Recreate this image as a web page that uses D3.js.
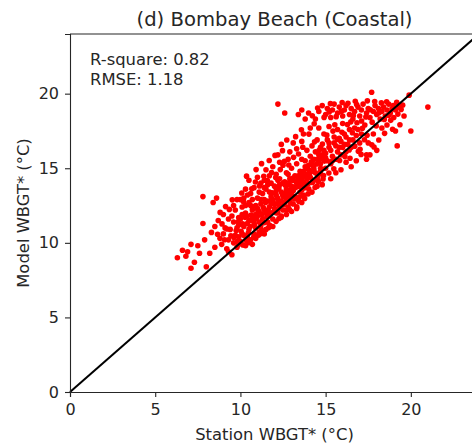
<!DOCTYPE html>
<html lang="en">

<head>
	<meta charset="UTF-8">
	<title>scatter</title>
	<script type="text/javascript" src="https://cdn.jsdelivr.net/npm/d3@7/dist/d3.min.js" charset="UTF-8"></script>
	<style>
		body { margin: 0; background: #fff; }
		text { font-family: "DejaVu Sans", sans-serif; fill: #262626; }
	</style>
</head>

<body>
	<script type="text/javascript">
	// [station WBGT*, model WBGT*]
	let lowTail = [
		[6.3, 9.0], [6.6, 9.5], [6.8, 9.1], [6.9, 9.4], [7.1, 9.9], [7.1, 8.3], [7.3, 8.7], [7.5, 9.8],
		[7.6, 9.3], [7.8, 11.3], [7.9, 10.2], [8.0, 8.4], [8.2, 9.3], [8.3, 10.7], [8.5, 11.1], [8.5, 9.7],
		[8.4, 12.7], [7.8, 13.1], [8.6, 13.0], [9.6, 12.5], [9.5, 9.2], [8.8, 10.3], [8.9, 9.9], [9.0, 10.6],
		[9.1, 11.0], [9.2, 9.6], [9.3, 10.2], [9.4, 10.9], [9.3, 11.6], [9.0, 11.9], [8.7, 11.5], [9.6, 10.0],
		[9.7, 10.5], [9.8, 9.7], [9.9, 11.2], [9.5, 11.8], [9.3, 9.4], [9.9, 9.9],
		[9.44, 10.47], [9.21, 10.93], [9.07, 10.21], [8.92, 11.27], [8.66, 10.58], [9.35, 12.24], [8.81, 12.04],
		[9.52, 12.88], [9.13, 12.43], [9.84, 10.12], [10.15, 9.86], [10.49, 10.01]
	]

	let core = [
		[10.0, 10.1], [10.1, 10.6], [10.2, 11.1], [10.0, 11.6], [10.3, 12.0], [10.1, 12.4], [10.4, 10.4], [10.5, 10.9],
		[10.6, 11.5], [10.4, 11.8], [10.7, 12.2], [10.5, 12.7], [10.8, 10.6], [10.9, 11.0], [10.8, 11.4], [11.0, 11.8],
		[10.9, 12.5], [11.0, 13.0], [10.2, 13.0], [10.6, 13.3], [10.3, 13.6], [9.8, 12.9], [9.7, 12.2], [10.0, 12.9],
		[10.7, 9.9], [10.3, 9.8], [9.9, 10.4], [10.6, 10.2], [11.1, 10.7], [11.2, 11.2], [11.1, 12.1], [11.3, 11.6],
		[11.2, 12.6], [11.4, 12.9], [11.3, 13.3], [11.5, 10.9], [11.6, 11.4], [11.5, 12.0], [11.7, 12.4], [11.6, 12.8],
		[11.8, 13.1], [11.5, 13.6], [11.9, 11.6], [11.8, 12.0], [12.0, 12.3], [11.9, 12.7], [12.1, 13.2], [12.0, 13.8],
		[11.2, 14.0], [11.0, 14.4], [11.5, 14.9], [10.5, 14.2],
		[12.2, 12.0], [12.3, 12.5], [12.2, 12.9], [12.4, 13.4], [12.3, 13.9], [12.5, 12.2], [12.6, 12.7], [12.5, 13.1],
		[12.7, 13.6], [12.6, 14.1], [12.8, 12.4], [12.9, 12.9], [12.8, 13.3], [13.0, 13.8], [12.9, 14.3], [12.7, 14.7],
		[13.1, 12.6], [13.2, 13.1], [13.1, 13.5], [13.3, 14.0], [13.2, 14.5], [13.0, 15.0], [13.4, 12.9], [13.5, 13.4],
		[13.4, 13.8], [13.6, 14.3], [13.5, 14.8], [13.3, 15.3], [13.7, 13.2], [13.8, 13.7], [13.7, 14.1], [13.9, 14.6],
		[13.8, 15.1], [13.6, 15.6], [14.0, 14.0], [14.1, 14.4], [14.0, 14.9], [14.2, 15.3], [14.1, 15.8], [13.9, 16.2],
		[14.3, 14.2], [14.4, 14.7], [14.3, 15.1], [14.5, 15.6], [14.4, 16.1], [14.2, 16.5], [14.6, 14.6], [14.7, 15.0],
		[14.6, 15.4], [14.8, 15.9], [14.7, 16.4], [14.5, 16.9],
		[10.4, 11.3], [10.7, 11.7], [10.2, 10.5], [10.9, 11.9], [11.1, 11.4], [11.4, 12.2], [11.3, 10.8], [11.6, 11.9],
		[11.9, 12.9], [12.1, 12.0], [12.2, 12.6], [12.4, 12.8], [12.6, 13.3], [12.8, 13.9], [12.3, 14.3], [11.7, 13.4],
		[11.4, 13.7], [10.8, 13.7], [10.1, 11.9], [9.8, 11.0], [9.6, 11.4], [10.5, 11.5], [11.0, 12.3], [11.2, 12.9],
		[11.8, 12.6], [12.1, 13.5], [12.7, 12.9], [13.0, 13.2], [13.2, 13.7], [13.5, 14.1], [13.1, 14.2], [12.8, 14.6],
		[13.4, 14.5], [13.7, 14.8], [14.0, 15.2], [13.8, 15.5], [14.3, 15.6], [14.6, 15.9], [14.9, 16.2], [15.2, 16.7],
		[15.5, 17.1], [15.8, 16.4], [16.1, 16.6], [16.4, 16.9], [15.4, 15.5], [15.0, 15.7], [14.7, 15.3], [14.2, 14.8],
		[13.9, 14.3], [13.6, 13.9], [12.9, 13.5], [12.5, 14.0], [12.2, 14.2], [11.6, 13.9], [11.1, 13.4], [10.7, 12.9],
		[10.3, 12.5], [9.9, 11.7], [10.6, 12.5],
		[9.62, 10.35], [9.75, 10.83], [9.88, 11.42], [10.04, 10.77], [10.13, 11.28], [10.27, 11.71], [10.33, 10.18],
		[10.46, 10.66], [10.58, 11.09], [10.63, 11.87], [10.71, 12.41], [10.82, 11.23], [10.94, 11.65], [11.03, 12.14],
		[11.07, 10.52], [11.18, 11.02], [11.26, 11.89], [11.34, 12.37], [11.41, 11.35], [11.48, 12.71], [11.55, 11.73],
		[11.63, 12.22], [11.72, 11.18], [11.79, 12.83], [11.86, 13.36], [11.94, 12.05], [12.03, 12.61], [12.09, 11.44],
		[12.17, 13.02], [12.26, 13.67], [12.31, 12.33], [12.39, 11.71], [12.47, 13.24], [12.55, 12.55], [12.62, 13.88],
		[12.71, 12.18], [12.78, 13.12], [12.86, 14.04], [12.93, 12.67], [13.02, 13.46], [13.09, 14.35], [13.17, 12.94],
		[13.25, 13.73], [13.31, 12.41], [13.38, 14.22], [13.46, 13.07], [13.53, 14.64], [13.61, 13.56], [13.69, 14.47],
		[13.77, 12.98], [13.84, 13.91], [13.92, 15.02], [14.01, 13.63], [14.08, 14.69], [14.16, 15.44], [14.23, 14.05],
		[14.31, 14.93], [14.38, 13.71], [14.46, 15.28], [14.53, 14.42], [14.62, 16.21], [14.69, 14.77], [14.77, 15.67],
		[14.85, 14.28], [14.93, 15.48], [10.18, 12.76], [10.41, 13.21], [10.67, 13.62], [10.88, 14.08], [11.12, 13.81],
		[11.37, 14.46], [11.58, 14.17], [11.83, 14.72], [12.07, 14.38], [12.34, 14.91], [12.58, 15.47], [12.84, 15.22],
		[13.12, 15.73], [13.41, 15.96], [13.66, 16.41], [10.08, 13.34], [10.36, 14.47], [10.92, 14.91], [11.24, 15.31],
		[11.69, 15.52], [12.03, 15.86], [12.47, 16.18]
	]

	let upperMid = [
		[15.0, 15.0], [15.1, 15.5], [15.0, 16.0], [15.2, 16.4], [15.1, 16.9], [14.9, 17.3], [15.3, 15.3], [15.4, 15.8],
		[15.3, 16.2], [15.5, 16.7], [15.6, 15.6], [15.7, 16.1], [15.6, 16.5], [15.8, 17.0], [15.9, 15.9], [16.0, 16.4],
		[15.9, 16.8], [16.1, 17.3], [16.2, 16.1], [16.3, 16.6], [16.2, 17.1], [16.4, 17.6], [16.5, 16.4], [16.6, 16.9],
		[16.8, 17.2], [16.7, 17.7], [17.0, 16.7], [17.1, 17.3], [15.2, 17.8], [15.7, 17.6], [16.0, 18.0], [14.6, 17.7],
		[14.1, 17.7], [13.7, 17.3], [13.1, 16.7], [12.4, 16.6], [12.2, 15.9], [12.8, 15.6], [12.5, 15.2], [13.3, 16.3],
		[13.6, 16.8], [12.9, 16.1], [12.3, 15.4], [11.9, 15.1], [11.7, 14.5], [11.4, 14.2], [12.1, 14.6], [11.8, 14.0],
		[12.72, 16.89], [13.24, 17.12], [13.58, 17.58], [14.02, 17.29], [14.35, 16.77], [14.81, 16.63], [15.07, 17.22],
		[15.43, 17.49], [15.71, 16.93], [15.96, 17.41], [16.28, 17.93], [16.57, 17.38], [16.84, 18.05], [17.16, 17.68],
		[17.43, 17.21], [17.71, 16.58], [17.97, 17.83], [16.38, 16.22], [16.71, 16.48], [17.02, 16.27], [17.28, 16.91]
	]

	let belowLine = [
		[11.9, 11.1], [12.4, 11.8], [13.0, 12.1], [13.6, 12.7], [14.2, 13.4], [14.8, 13.9], [15.3, 14.3], [15.9, 14.9],
		[16.5, 15.1], [16.8, 15.5], [17.4, 15.9], [12.7, 11.9], [13.3, 12.3], [14.5, 13.8], [15.6, 14.7], [16.2, 15.4],
		[10.9, 10.3], [11.4, 10.6], [16.13, 15.78], [15.82, 15.52], [15.48, 14.96], [15.19, 14.68], [14.88, 14.51],
		[14.57, 14.12], [13.97, 13.28], [13.43, 12.77], [12.88, 12.23], [12.26, 11.63], [11.66, 11.02], [11.21, 10.63],
		[10.78, 10.37]
	]

	let upperCluster = [
		[12.2, 19.3], [12.6, 18.7], [13.4, 18.6], [13.6, 18.9], [14.0, 18.7], [13.8, 18.3], [14.4, 18.3], [14.6, 18.8],
		[14.8, 19.2], [15.0, 18.6], [15.1, 19.0], [15.3, 18.4], [15.4, 18.9], [15.5, 19.3], [15.7, 18.7], [15.8, 19.1],
		[16.0, 18.5], [16.1, 18.9], [16.2, 19.2], [16.4, 18.6], [16.5, 19.0], [16.6, 18.3], [16.7, 18.8], [16.9, 19.1],
		[17.0, 18.5], [17.1, 18.9], [17.2, 19.3], [17.4, 18.7], [17.5, 19.0], [17.6, 18.4], [17.7, 20.1], [17.8, 18.8],
		[17.9, 19.2], [18.0, 18.6], [18.1, 19.0], [18.2, 18.3], [18.3, 18.8], [18.4, 19.1], [18.5, 18.5], [18.6, 18.9],
		[18.7, 19.3], [18.8, 18.7], [18.9, 19.0], [19.0, 18.4], [19.1, 18.9], [19.3, 19.1], [19.6, 18.5], [19.9, 19.9],
		[21.0, 19.1], [19.1, 17.5], [20.0, 17.5], [19.2, 16.5], [18.0, 16.2], [17.6, 15.9], [17.5, 16.7], [17.4, 15.6],
		[18.3, 17.7], [17.8, 17.3], [18.6, 17.9], [17.3, 17.9], [16.9, 17.6],
		[14.22, 18.52], [14.53, 19.04], [14.91, 18.41], [15.21, 18.77], [15.62, 18.46], [15.93, 18.82], [16.31, 19.36],
		[16.63, 18.54], [16.82, 19.27], [17.11, 18.17], [17.36, 18.44], [17.62, 18.92], [17.88, 19.47], [18.13, 18.72],
		[18.44, 18.27], [18.71, 18.56], [18.96, 19.21], [19.24, 18.63], [19.43, 18.94], [19.17, 19.42], [18.58, 19.46],
		[18.27, 19.38], [17.45, 19.52], [16.74, 19.49], [15.97, 19.41], [15.28, 19.33], [14.33, 17.98], [15.54, 17.92],
		[16.48, 18.11], [17.73, 18.09], [18.82, 18.21], [19.52, 19.23], [19.36, 17.92], [18.93, 17.61], [18.46, 17.34],
		[18.12, 16.89], [17.84, 16.42], [16.92, 16.14], [16.43, 15.67], [17.08, 15.93]
	]

	let xTicks = [0, 5, 10, 15, 20]
	let yTicks = [0, 5, 10, 15, 20]
	let stats = ['R-square: 0.82', 'RMSE: 1.18']
	let title = '(d) Bombay Beach (Coastal)'

	let points = lowTail.concat(core, upperMid, belowLine, upperCluster)

	let width = 472,
		height = 447;
	let margin = { top: 34, right: -7, bottom: 55, left: 70 }

	let svg = d3.select('body').append('svg')
		.attr('width', width)
		.attr('height', height)

	let xScale = d3.scaleLinear()
		.domain([0, 24])
		.range([margin.left, width - margin.right])

	let yScale = d3.scaleLinear()
		.domain([0, 24])
		.range([height - margin.bottom, margin.top])

	svg.append('g')
		.selectAll('circle')
		.data(points)
		.enter()
		.append('circle')
		.attr('cx', d => xScale(d[0]))
		.attr('cy', d => yScale(d[1]))
		.attr('r', 2.8)
		.attr('fill', 'red')

	// 1:1 line
	svg.append('line')
		.attr('x1', xScale(0))
		.attr('y1', yScale(0))
		.attr('x2', xScale(24))
		.attr('y2', yScale(24))
		.attr('stroke', 'black')
		.attr('stroke-width', 2)

	let axisBottom = d3.axisBottom(xScale).tickValues(xTicks).tickSize(5).tickPadding(7)
	let axisLeft = d3.axisLeft(yScale).tickValues(yTicks).tickSize(5).tickPadding(6)

	let gx = svg.append('g')
		.attr('transform', `translate(0,${height - margin.bottom})`)
		.call(axisBottom)
	let gy = svg.append('g')
		.attr('transform', `translate(${margin.left},0)`)
		.call(axisLeft)

	;[gx, gy].forEach(g => {
		g.selectAll('text').attr('font-size', 16).attr('font-family', 'DejaVu Sans').attr('fill', '#262626')
		g.selectAll('line').attr('stroke', '#262626').attr('stroke-width', 1.1)
		g.select('.domain').attr('stroke', '#262626').attr('stroke-width', 1.1)
	})

	// top spine
	svg.append('line')
		.attr('x1', xScale(0))
		.attr('x2', width - margin.right)
		.attr('y1', margin.top)
		.attr('y2', margin.top)
		.attr('stroke', '#262626')
		.attr('stroke-width', 1.1)

	svg.append('text')
		.attr('x', (xScale(0) + xScale(24)) / 2)
		.attr('y', 26)
		.attr('text-anchor', 'middle')
		.attr('font-size', 19.6)
		.text(title)

	svg.selectAll('.stat')
		.data(stats)
		.enter()
		.append('text')
		.attr('class', 'stat')
		.attr('x', 90)
		.attr('y', (d, i) => 65 + i * 20)
		.attr('font-size', 16.4)
		.text(d => d)

	svg.append('text')
		.attr('x', (xScale(0) + xScale(24)) / 2)
		.attr('y', 440)
		.attr('text-anchor', 'middle')
		.attr('font-size', 16.4)
		.text('Station WBGT* (°C)')

	svg.append('text')
		.attr('transform', `translate(29,${(margin.top + height - margin.bottom) / 2}) rotate(-90)`)
		.attr('text-anchor', 'middle')
		.attr('font-size', 16.4)
		.text('Model WBGT* (°C)')
	</script>
</body>

</html>
